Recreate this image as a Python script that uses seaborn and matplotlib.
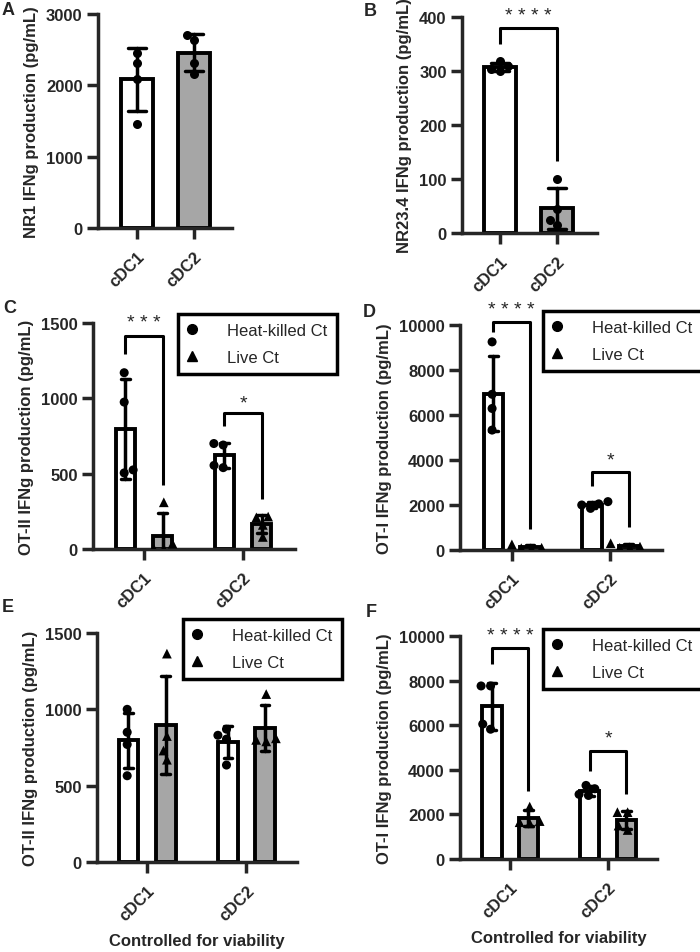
import numpy as np
import pandas as pd
import matplotlib
matplotlib.use('Agg')
import matplotlib.pyplot as plt
import seaborn as sns
from matplotlib.lines import Line2D

# ---- data (pg/mL) ----
cells = ['cDC1', 'cDC2']
groups = ['Heat-killed Ct', 'Live Ct']

# A: NR1
nr1_cdc1 = [2460, 2320, 2090, 1460]
nr1_cdc2 = [2630, 2710, 2320, 2160]
# B: NR23.4
nr234_cdc1 = [300, 318, 309, 303]
nr234_cdc2 = [100, 45, 25, 14]
# C: OT-II
otii_hk_cdc1 = [1170, 975, 505, 525]
otii_live_cdc1 = [310, 35, 5, 2]
otii_hk_cdc2 = [690, 700, 540, 555]
otii_live_cdc2 = [215, 210, 80, 160]
# D: OT-I
oti_hk_cdc1 = [9250, 6920, 6290, 5330]
oti_live_cdc1 = [250, 100, 60, 80]
oti_hk_cdc2 = [2150, 2050, 1850, 2000]
oti_live_cdc2 = [300, 150, 80, 100]
# E: OT-II, controlled for viability
otii_v_hk_cdc1 = [1000, 850, 770, 565]
otii_v_live_cdc1 = [1365, 825, 730, 670]
otii_v_hk_cdc2 = [830, 870, 805, 635]
otii_v_live_cdc2 = [1100, 810, 790, 800]
# F: OT-I, controlled for viability
oti_v_hk_cdc1 = [7760, 7760, 5820, 6050]
oti_v_live_cdc1 = [2350, 1700, 1600, 1650]
oti_v_hk_cdc2 = [3300, 3150, 2900, 2850]
oti_v_live_cdc2 = [2100, 2100, 1300, 1500]

GRAY = '#a6a6a6'
LW = 2.5       # axes / error bars
BAR_LW = 2.8   # bar outlines
FS = 12

sns.set_style('ticks')
plt.rcParams['font.family'] = ['Liberation Sans', 'DejaVu Sans']
plt.rcParams['font.weight'] = 'bold'
plt.rcParams['axes.labelweight'] = 'bold'

W, H = 700, 953
fig = plt.figure(figsize=(W / 100, H / 100), dpi=100)


def add_ax(l, t, r, b):
    return fig.add_axes([l / W, 1 - b / H, (r - l) / W, (b - t) / H])


def two_bar_df(a, b):
    return pd.DataFrame({'cell': ['cDC1'] * len(a) + ['cDC2'] * len(b),
                         'value': a + b})


def grouped_df(hk1, lv1, hk2, lv2):
    rows = []
    for cell, g, vals in [('cDC1', groups[0], hk1), ('cDC1', groups[1], lv1),
                          ('cDC2', groups[0], hk2), ('cDC2', groups[1], lv2)]:
        for v in vals:
            rows.append({'cell': cell, 'group': g, 'value': v})
    return pd.DataFrame(rows)


def style_axes(ax, ylim, yticks, ylabel, xlim):
    ax.set_ylim(*ylim)
    ax.set_yticks(yticks)
    ax.set_xlim(*xlim)
    sns.despine(ax=ax)
    for s in ['left', 'bottom']:
        ax.spines[s].set_linewidth(LW)
    ax.tick_params(axis='both', direction='out', length=8, width=LW,
                   labelsize=FS)
    ax.tick_params(axis='y', pad=3)
    ax.tick_params(axis='x', pad=7)
    ax.set_ylabel(ylabel, fontsize=FS, labelpad=5)
    ax.set_xlabel('')
    plt.setp(ax.get_xticklabels(), rotation=45, ha='right',
             rotation_mode='anchor')


def simple_panel(ax, df, ylim, yticks, ylabel, xlim):
    sns.barplot(data=df, x='cell', y='value', hue='cell', order=cells,
                palette={'cDC1': 'white', 'cDC2': GRAY}, legend=False,
                errorbar='sd', capsize=0.33, width=0.56, edgecolor='black',
                linewidth=BAR_LW, err_kws={'color': 'black', 'linewidth': LW}, ax=ax)
    sns.swarmplot(data=df, x='cell', y='value', order=cells, color='black',
                  size=6.5, linewidth=0, ax=ax)
    style_axes(ax, ylim, yticks, ylabel, xlim)


def grouped_panel(ax, df, ylim, yticks, ylabel, xlim, legend_xy):
    sns.barplot(data=df, x='cell', y='value', hue='group', order=cells,
                hue_order=groups, palette={groups[0]: 'white', groups[1]: GRAY},
                errorbar='sd', capsize=0.17, width=0.75, gap=0.47,
                edgecolor='black', linewidth=BAR_LW, legend=False,
                err_kws={'color': 'black', 'linewidth': LW}, ax=ax)
    for g, m, s in zip(groups, ['o', '^'], [6.5, 7]):
        sns.swarmplot(data=df[df['group'] == g], x='cell', y='value',
                      hue='group', order=cells, hue_order=groups, dodge=True,
                      palette={k: 'black' for k in groups}, marker=m, size=s,
                      linewidth=0, legend=False, ax=ax)
    style_axes(ax, ylim, yticks, ylabel, xlim)
    handles = [Line2D([], [], marker='o', ls='', color='k', markersize=7),
               Line2D([], [], marker='^', ls='', color='k', markersize=7)]
    leg = ax.legend(handles, groups, loc='upper left',
                    bbox_to_anchor=(legend_xy[0] / W, 1 - legend_xy[1] / H),
                    bbox_transform=fig.transFigure, borderaxespad=0,
                    frameon=True, fancybox=False, edgecolor='black',
                    framealpha=1, prop={'weight': 'normal', 'size': 12},
                    handlelength=0.6, handletextpad=1.8, borderpad=0.55,
                    labelspacing=0.7)
    leg.get_frame().set_linewidth(LW)


def bracket(ax, x1, x2, y_left, y_top, y_right, text, text_y):
    ax.plot([x1, x1, x2, x2], [y_left, y_top, y_top, y_right], color='black',
            lw=2.2, clip_on=False, solid_capstyle='butt')
    ax.annotate(text, xy=((x1 + x2) / 2, text_y), xytext=(0, -3),
                textcoords='offset points', ha='center', va='center',
                fontsize=14, fontweight='normal', annotation_clip=False)


# A
ax_a = add_ax(98, 15, 232, 229)
simple_panel(ax_a, two_bar_df(nr1_cdc1, nr1_cdc2), (0, 3000),
             [0, 1000, 2000, 3000], 'NR1 IFNg production (pg/mL)', (-0.684, 1.667))

# B
ax_b = add_ax(462, 18, 597, 234)
simple_panel(ax_b, two_bar_df(nr234_cdc1, nr234_cdc2), (0, 400),
             [0, 100, 200, 300, 400], 'NR23.4 IFNg production (pg/mL)', (-0.667, 1.70))
bracket(ax_b, 0, 1, 350, 380, 133, '* * * *', 411)

# C
ax_c = add_ax(93, 324, 295, 550)
grouped_panel(ax_c, grouped_df(otii_hk_cdc1, otii_live_cdc1, otii_hk_cdc2, otii_live_cdc2),
              (0, 1500), [0, 500, 1000, 1500], 'OT-II IFNg production (pg/mL)',
              (-0.515, 1.525), (178, 315))
bracket(ax_c, -0.1875, 0.1875, 1293, 1415, 427, '* * *', 1530)
bracket(ax_c, 0.8125, 1.1875, 816, 900, 332, '*', 1000)

# D
ax_d = add_ax(460, 326, 662, 551)
grouped_panel(ax_d, grouped_df(oti_hk_cdc1, oti_live_cdc1, oti_hk_cdc2, oti_live_cdc2),
              (0, 10000), [0, 2000, 4000, 6000, 8000, 10000],
              'OT-I IFNg production (pg/mL)', (-0.526, 1.526), (543, 312))
bracket(ax_d, -0.1875, 0.1875, 9676, 10120, 930, '* * * *', 10874)
bracket(ax_d, 0.8125, 1.1875, 2854, 3476, 1007, '*', 4186)

# E
ax_e = add_ax(97, 634, 297, 863)
grouped_panel(ax_e, grouped_df(otii_v_hk_cdc1, otii_v_live_cdc1, otii_v_hk_cdc2, otii_v_live_cdc2),
              (0, 1500), [0, 500, 1000, 1500], 'OT-II IFNg production (pg/mL)',
              (-0.504, 1.51), (183, 620))
ax_e.set_xlabel('Controlled for viability', fontsize=FS, labelpad=7)

# F
ax_f = add_ax(460, 637, 657, 860)
grouped_panel(ax_f, grouped_df(oti_v_hk_cdc1, oti_v_live_cdc1, oti_v_hk_cdc2, oti_v_live_cdc2),
              (0, 10000), [0, 2000, 4000, 6000, 8000, 10000],
              'OT-I IFNg production (pg/mL)', (-0.512, 1.50), (543, 630))
ax_f.set_xlabel('Controlled for viability', fontsize=FS, labelpad=7)
bracket(ax_f, -0.1875, 0.1875, 8732, 9481, 3060, '* * * *', 10210)
bracket(ax_f, 0.8125, 1.1875, 3955, 4851, 2911, '*', 5598)

# panel letters
for letter, x, y in [('A', 2, 2), ('B', 364, 3), ('C', 3, 300), ('D', 363, 304),
                     ('E', 2, 599), ('F', 366, 604)]:
    fig.text(x / W, 1 - y / H, letter, fontsize=13, fontweight='bold',
             ha='left', va='top')

fig.savefig('out.png', dpi=100)
